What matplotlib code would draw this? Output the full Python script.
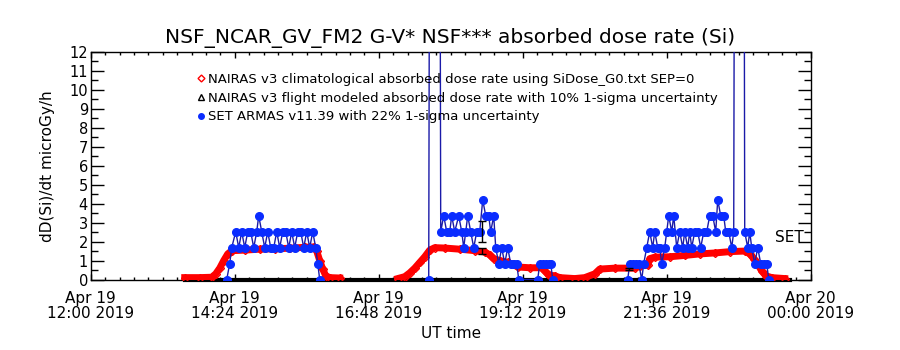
import numpy as np
import matplotlib.pyplot as plt
from matplotlib.lines import Line2D
from matplotlib.ticker import MultipleLocator

# time axis: minutes after Apr 19 2019 12:00 UT
# NAIRAS v3 climatological absorbed dose rate (red diamonds)
red_t = [94, 109, 121, 125, 129, 133, 137, 141, 154, 169, 184, 199, 214, 223, 226, 229, 232, 235, 239, 249,
         280,
         307, 314, 319, 324, 329, 334, 339, 344, 354, 369, 384, 394, 399, 403, 409, 417, 422, 427, 439, 451,
         455, 458, 464, 469, 484, 494, 504, 509, 524, 544, 549, 557, 559, 564, 579, 594, 609, 624, 639, 654,
         659, 663, 667, 671, 675, 681, 694]
red_v = [0.1, 0.1, 0.12, 0.3, 0.6, 1.0, 1.35, 1.52, 1.55, 1.6, 1.62, 1.65, 1.7, 1.72, 1.5, 1.0, 0.55, 0.2, 0.1, 0.08,
         np.nan,
         0.05, 0.15, 0.35, 0.6, 0.9, 1.2, 1.55, 1.68, 1.66, 1.6, 1.52, 1.45, 1.3, 1.1, 1.0, 0.9, 0.8, 0.66, 0.62, 0.62,
         0.4, 0.22, 0.2, 0.1, 0.05, 0.1, 0.3, 0.55, 0.6, 0.6, 0.72, 0.75, 1.1, 1.18, 1.2, 1.27, 1.35, 1.4, 1.47, 1.5,
         1.35, 1.1, 0.8, 0.45, 0.2, 0.1, 0.05]

# NAIRAS v3 flight modeled absorbed dose rate (black triangles)
blk_t = [94, 699]
blk_v = [0.0, 0.0]

# SET ARMAS v11.39 (blue dots)
blue_t = [136, 139, 141, 145, 148, 151, 154, 157, 160, 163, 166, 168, 171, 174, 177, 180, 183, 186, 189, 192,
          195, 198, 201, 204, 207, 210, 213, 216, 219, 222, 225, 227, 229,
          280,
          338, 344, 350, 353, 356, 359, 361, 364, 368, 371, 373, 375, 377, 380, 383, 386, 389, 392, 395, 398,
          400, 403, 405, 408, 411, 414, 417, 420, 423, 426, 428, 447, 449, 452, 455, 458, 460, 462,
          500,
          537, 539, 542, 545, 548, 551, 553, 556, 559, 562, 564, 567, 569, 571, 574, 576, 578, 581, 583, 586,
          589, 592, 594, 597, 599, 601, 604, 607, 610, 613, 616, 619, 622, 625, 627, 630, 633, 635, 638, 641,
          643, 649, 654, 657, 659, 661, 664, 667, 670, 673, 676, 678]
blue_v = [0, 0.84, 1.68, 2.52, 1.68, 2.52, 1.68, 2.52, 2.52, 1.68, 2.52, 3.36, 2.52, 1.68, 2.52, 1.68, 1.68, 2.52, 1.68, 2.52,
          2.52, 1.68, 2.52, 1.68, 2.52, 2.52, 1.68, 2.52, 1.68, 2.52, 1.68, 0.84, 0,
          np.nan,
          0, 150, 2.52, 3.36, 2.52, 2.52, 3.36, 2.52, 3.36, 2.52, 1.68, 2.52, 3.36, 2.52, 1.68, 2.52, 2.52, 4.2, 3.36, 3.36,
          2.52, 3.36, 1.68, 0.84, 1.68, 0.84, 1.68, 0.84, 0.84, 0.84, 0, 0, 0.84, 0.84, 0.84, 0.84, 0.84, 0,
          np.nan,
          0, 0.84, 0.84, 0.84, 0.84, 0, 0.84, 1.68, 2.52, 1.68, 2.52, 1.68, 1.68, 0.84, 1.68, 2.52, 3.36, 2.52, 3.36, 1.68,
          2.52, 1.68, 2.52, 1.68, 2.52, 1.68, 2.52, 2.52, 1.68, 2.52, 2.52, 3.36, 3.36, 2.52, 4.2, 3.36, 3.36, 2.52, 2.52, 1.68,
          2.52, 150, 2.52, 1.68, 2.52, 1.68, 0.84, 1.68, 0.84, 0.84, 0.84, 0]

# 1-sigma error bars drawn on a few points
err_t = [391, 391, 538]
err_v = [2.52, 1.5, 0.55]
err_frac = [0.22, 0.10, 0.10]

xtick_pos = [0, 144, 288, 432, 576, 720]
xtick_labels = ["Apr 19\n12:00 2019", "Apr 19\n14:24 2019", "Apr 19\n16:48 2019",
                "Apr 19\n19:12 2019", "Apr 19\n21:36 2019", "Apr 20\n00:00 2019"]

legend_labels = ["NAIRAS v3 climatological absorbed dose rate using SiDose_G0.txt SEP=0",
                 "NAIRAS v3 flight modeled absorbed dose rate with 10% 1-sigma uncertainty",
                 "SET ARMAS v11.39 with 22% 1-sigma uncertainty"]

fig = plt.figure(figsize=(9, 3.5), dpi=100)
ax = fig.add_axes([0.1008, 0.2014, 0.8, 0.65])

ax.plot(blk_t, blk_v, color='black', lw=3, clip_on=False, zorder=2)
ax.plot(red_t, red_v, color='#ff0000', lw=5, zorder=3)
ax.plot(red_t, red_v, ls='none', marker='D', ms=4, mfc='none', mec='#ff0000', mew=1, zorder=3)
ax.plot(blue_t, blue_v, color='#1a1aa8', lw=1, zorder=4)
ax.plot(blue_t, blue_v, ls='none', marker='o', ms=5.5, color='#0a2cff', zorder=5)

err = np.array(err_v) * np.array(err_frac)
ax.errorbar(err_t, err_v, yerr=err, fmt='none', ecolor='black', elinewidth=1, capsize=3, zorder=6)

ax.text(684, 2.24, "SET", fontsize=11, va='center', ha='left')

ax.set_xlim(0, 720)
ax.set_ylim(0, 12)
ax.set_xticks(xtick_pos)
ax.set_xticklabels(xtick_labels, fontsize=11, linespacing=1.0)
ax.xaxis.set_minor_locator(MultipleLocator(14.4))
ax.yaxis.set_major_locator(MultipleLocator(1))
ax.yaxis.set_minor_locator(MultipleLocator(0.5))
ax.tick_params(axis='y', which='major', direction='in', length=9.5, width=1, right=True, labelsize=10.5, pad=2)
ax.tick_params(axis='y', which='minor', direction='in', length=5, width=1, right=True)
ax.tick_params(axis='x', which='major', direction='in', length=4, width=1, top=True, pad=8)
ax.tick_params(axis='x', which='minor', direction='in', length=2, width=1, top=True)

ax.set_xlabel("UT time", fontsize=11, labelpad=4)
ax.set_ylabel("dD(Si)/dt microGy/h", fontsize=11, labelpad=10)
fig.text(0.5, 1 - 38 / 350, "NSF_NCAR_GV_FM2 G-V* NSF*** absorbed dose rate (Si)",
         ha='center', va='center', fontsize=14.5)

handles = [Line2D([], [], ls='none', marker='D', ms=3.5, mfc='white', mec='#ff0000'),
           Line2D([], [], ls='none', marker='^', ms=4, mfc='white', mec='black'),
           Line2D([], [], ls='none', marker='o', ms=4, color='#0a2cff')]
ax.legend(handles, legend_labels, loc='upper left', bbox_to_anchor=(0.135, 0.95), frameon=False,
          fontsize=9.5, handlelength=0.6, handletextpad=0.25, labelspacing=0.45, borderpad=0.2)

for s in ax.spines.values():
    s.set_linewidth(1)

fig.savefig("out.png", dpi=100)
